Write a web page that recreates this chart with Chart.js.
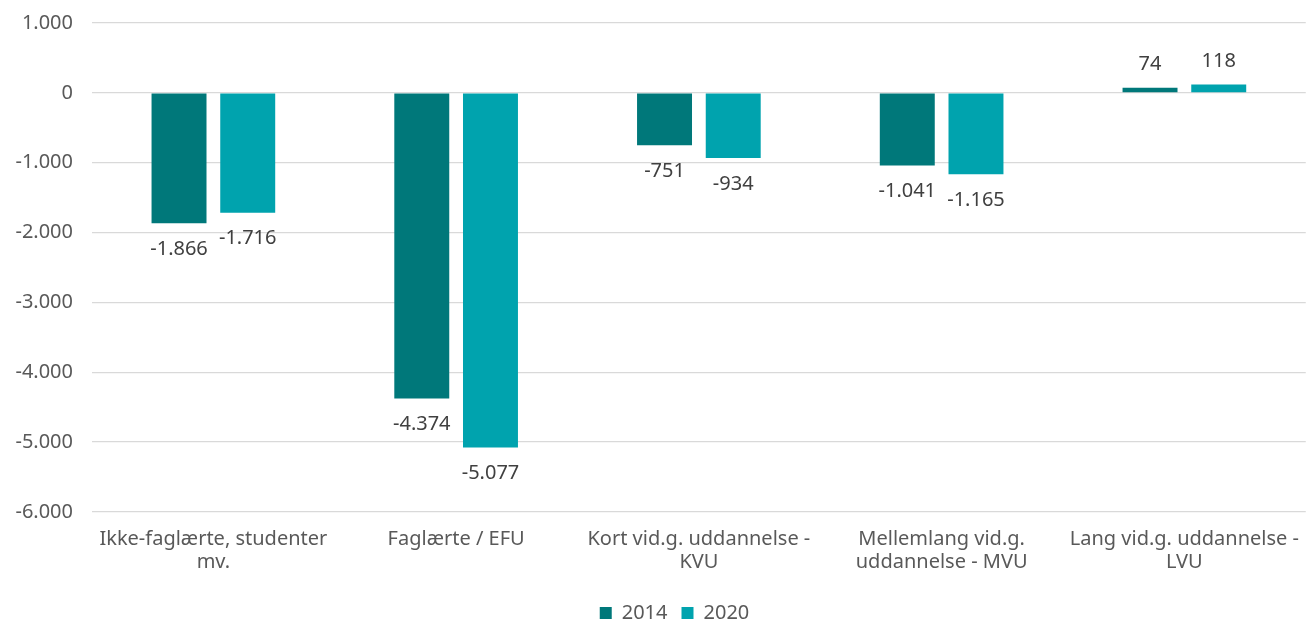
<!DOCTYPE html>
<html>
<head>
    <meta charset="utf-8">
    <title>Uddannelse</title>
    <script src="https://cdn.jsdelivr.net/npm/chart.js@4"></script>
    <style>
        html, body { margin: 0; padding: 0; background: #fff; }
        #wrap { width: 1307px; height: 621px; }
    </style>
</head>
<body>
    <div id="wrap"><canvas id="eduChart"></canvas></div>

    <script>
        // data
        const categories = [
            ['Ikke-faglærte, studenter', 'mv.'],
            'Faglærte / EFU',
            ['Kort vid.g. uddannelse -', 'KVU'],
            ['Mellemlang vid.g.', 'uddannelse - MVU'],
            ['Lang vid.g. uddannelse -', 'LVU']
        ];
        const seriesNames = ['2014', '2020'];
        const values2014 = [-1866, -4374, -751, -1041, 74];
        const values2020 = [-1716, -5077, -934, -1165, 118];
        const yTicks = [1000, 0, -1000, -2000, -3000, -4000, -5000, -6000];

        // 1234 -> 1.234 (dansk tusindtalsseparator)
        function fmt(v) {
            const s = String(Math.abs(v)).replace(/\B(?=(\d{3})+(?!\d))/g, '.');
            return (v < 0 ? '-' : '') + s;
        }

        const textColor = '#595959';
        const fontFamily = '"Noto Sans", "Open Sans", sans-serif';

        // simple data labels at the bar ends
        const barLabels = {
            id: 'barLabels',
            afterDatasetsDraw(chart) {
                const ctx = chart.ctx;
                ctx.save();
                ctx.font = '20px ' + fontFamily;
                ctx.fillStyle = '#404040';
                ctx.textAlign = 'center';
                ctx.textBaseline = 'middle';
                chart.data.datasets.forEach((ds, i) => {
                    chart.getDatasetMeta(i).data.forEach((bar, j) => {
                        const v = ds.data[j];
                        const y = v < 0 ? bar.y + 26 : bar.y - 23;
                        ctx.fillText(fmt(v), bar.x, y);
                    });
                });
                ctx.restore();
            }
        };

        // legend sits a bit right of the canvas centre in the original
        const shiftLegend = {
            id: 'shiftLegend',
            afterLayout(chart) {
                chart.legend.left += 21;
                chart.legend.right += 21;
            }
        };

        Chart.defaults.font.family = fontFamily;
        Chart.defaults.font.size = 20;
        Chart.defaults.color = textColor;

        const ctx = document.getElementById('eduChart').getContext('2d');
        new Chart(ctx, {
            type: 'bar',
            data: {
                labels: categories,
                datasets: [{
                    label: seriesNames[0],
                    data: values2014,
                    backgroundColor: '#00787A'
                }, {
                    label: seriesNames[1],
                    data: values2020,
                    backgroundColor: '#00A3AE'
                }]
            },
            options: {
                responsive: true,
                maintainAspectRatio: false,
                animation: false,
                categoryPercentage: 0.566,
                barPercentage: 0.8,
                layout: { padding: { top: 23, left: 0, right: 0, bottom: -12 } },
                scales: {
                    x: {
                        grid: { display: false },
                        border: { display: false },
                        afterFit: axis => { axis.height += 7; },
                        ticks: {
                            maxRotation: 0, autoSkip: false, padding: 8, color: textColor,
                            font: { lineHeight: 1.15 }
                        }
                    },
                    y: {
                        min: -6000,
                        max: 1000,
                        afterBuildTicks: axis => { axis.ticks = yTicks.map(v => ({ value: v })); },
                        afterFit: axis => { axis.width = 92; axis.paddingTop = 0; axis.paddingBottom = 0; },
                        grid: { color: '#d9d9d9', lineWidth: 1.3, drawTicks: false },
                        border: { display: false },
                        ticks: { padding: 19, color: textColor, callback: v => fmt(v) }
                    }
                },
                plugins: {
                    legend: {
                        position: 'bottom',
                        labels: { boxWidth: 12, boxHeight: 12, padding: 14, color: textColor }
                    },
                    tooltip: { enabled: false }
                }
            },
            plugins: [barLabels, shiftLegend]
        });
    </script>
</body>
</html>
